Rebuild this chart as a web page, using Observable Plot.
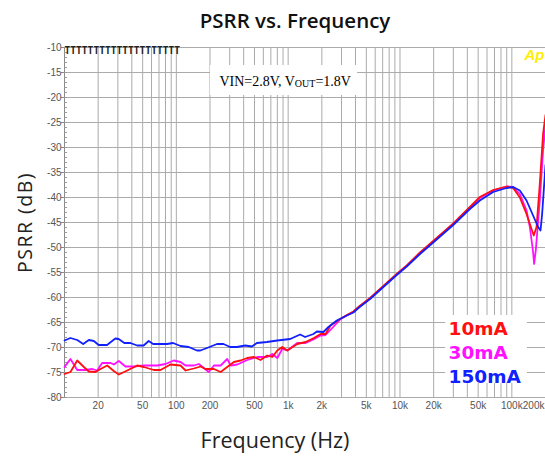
<!DOCTYPE html>
<html>
<head>
<meta charset="utf-8">
<script src="https://cdn.jsdelivr.net/npm/d3@7"></script>
<script src="https://cdn.jsdelivr.net/npm/@observablehq/plot@0.6"></script>
<style>
  html, body { margin: 0; padding: 0; background: #fff; }
  #chart svg { display: block; }
</style>
</head>
<body>
<div id="chart"></div>
<script>
// ---------- data ----------
const freq10mA = [10, 11.3, 13.0, 14.9, 16.5, 18.9, 21.0, 24.1, 27.6, 30.6, 36.4, 44.7, 51.2, 62.9, 72.2, 88.7, 109, 121, 143, 165, 182, 217, 249, 285, 327, 375, 431, 493, 566, 650, 721, 800, 885, 982, 1206, 1432, 1698, 1950, 2160, 2394, 2748, 3343, 3829, 4300, 5396, 7096, 9340, 11480, 15090, 21280, 29920, 42170, 51760, 68080, 89700, 102800, 117900, 135300, 150000, 157100, 166300, 177800, 190200, 200000];
const psrr10mA = [-75.3, -74.9, -72.6, -73.9, -74.8, -74.9, -74.3, -73.6, -74.7, -75.4, -74.6, -73.6, -73.9, -74.5, -74.5, -73.4, -73.6, -74.6, -74.2, -73.8, -74.3, -74.3, -74.9, -73.9, -72.9, -72.6, -72.1, -71.9, -72.5, -71.6, -71.9, -70.6, -69.9, -70.6, -69.3, -68.9, -68.1, -67.3, -67.3, -65.6, -64.7, -63.5, -62.8, -61.8, -60.1, -57.7, -55.3, -53.6, -51.0, -48.1, -45.2, -41.9, -39.9, -38.5, -37.8, -38.1, -40.0, -43.3, -46.3, -47.6, -45.9, -37.3, -27.3, -23.5];

const freq30mA = [10, 11.3, 13.0, 15.4, 17.7, 19.6, 21.7, 25.8, 27.6, 30.6, 35.1, 41.7, 51.2, 67.5, 80.0, 95, 109, 121, 143, 159, 195, 217, 249, 285, 306, 351, 431, 530, 650, 721, 800, 885, 982, 1206, 1432, 1643, 1950, 2160, 2479, 2943, 3343, 3829, 4300, 5396, 7096, 9340, 11480, 15090, 21280, 29920, 42170, 51760, 68080, 89700, 102800, 117900, 135300, 144900, 154900, 158200, 163700, 177800, 190200, 200000];
const psrr30mA = [-73.9, -72.3, -74.5, -74.5, -74.3, -74.6, -73.1, -73.1, -73.4, -72.7, -73.8, -73.8, -73.6, -73.6, -73.3, -72.6, -72.9, -73.6, -73.6, -73.3, -74.9, -73.6, -73.6, -72.3, -73.6, -73.4, -72.5, -71.9, -71.9, -71.3, -72.1, -70.3, -70.6, -69.1, -69.1, -68.5, -67.6, -67.5, -66.1, -64.3, -63.6, -62.9, -61.9, -60.2, -57.8, -55.4, -53.7, -51.1, -48.2, -45.3, -42.0, -40.1, -38.6, -37.8, -37.9, -39.3, -42.6, -45.9, -50.9, -53.3, -50.6, -40.6, -30.6, -25.5];

const freq150mA = [10, 11.3, 13.0, 14.7, 16.5, 18.3, 20.2, 24, 28.5, 30.5, 34.3, 38.8, 44.6, 51, 56.6, 62, 82.6, 93.5, 109, 129, 153, 164, 188, 231, 264, 303, 348, 413, 474, 525, 645, 800, 1042, 1280, 1418, 1682, 1804, 2066, 2290, 2722, 3343, 3829, 4300, 5396, 7096, 9340, 11480, 15090, 21280, 29920, 42170, 51760, 68080, 89700, 102800, 117900, 135300, 154900, 171800, 180400, 186600, 200000];
const psrr150mA = [-68.6, -68.1, -68.5, -69.3, -68.5, -68.7, -69.5, -69.5, -68.2, -68.3, -69.1, -69.1, -69.6, -69.6, -68.7, -69.3, -69.3, -69.1, -69.7, -69.9, -70.6, -70.6, -70.1, -69.3, -69.3, -69.9, -69.9, -69.6, -69.8, -69.1, -68.9, -68.6, -68.3, -67.4, -67.9, -67.3, -66.8, -66.9, -65.9, -64.6, -63.6, -63.0, -62.0, -60.3, -57.9, -55.5, -53.8, -51.3, -48.4, -45.5, -42.3, -40.6, -38.9, -38.1, -37.9, -38.6, -40.6, -43.6, -45.9, -46.6, -43.3, -33.5];

const seriesNames = ["10mA", "30mA", "150mA"];
const seriesColors = ["#ff1010", "#ff10ff", "#1020ff"];

const xTickValues = [20, 50, 100, 200, 500, 1000, 2000, 5000, 10000, 20000, 50000, 100000, 200000];
const xTickLabels = ["20", "50", "100", "200", "500", "1k", "2k", "5k", "10k", "20k", "50k", "100k", "200k"];
const yTickValues = [-10, -15, -20, -25, -30, -35, -40, -45, -50, -55, -60, -65, -70, -75, -80];
const yMinorTicks = d3.range(-80, -9, 1);
const xGridValues = [10, 100, 1000, 10000, 100000].flatMap(d => [1,2,3,4,5,6,7,8,9].map(m => d * m)).filter(v => v <= 200000);

const titleText = "PSRR vs. Frequency";
const xLabel = "Frequency (Hz)";
const yLabel = "PSRR (dB)";
const annotation = "VIN=2.8V, VOUT=1.8V";

// ---------- chart ----------
const gridColor = "#ababab";
const lines = [
  {f: freq30mA, p: psrr30mA, c: seriesColors[1]},
  {f: freq10mA, p: psrr10mA, c: seriesColors[0]},
  {f: freq150mA, p: psrr150mA, c: seriesColors[2]}
];
const nLab = xTickValues.length;

const chart = Plot.plot({
  width: 545,
  height: 457,
  marginTop: 47,
  marginBottom: 60,
  marginLeft: 64,
  marginRight: 0,
  style: {background: "white", fontFamily: "Liberation Sans, Arial, sans-serif", fontSize: "10px"},
  x: {type: "log", domain: [10, 200000], axis: null},
  y: {domain: [-80, -10], axis: null},
  marks: [
    Plot.ruleX(xGridValues, {stroke: gridColor}),
    Plot.ruleY(yTickValues, {stroke: gridColor}),
    Plot.ruleX([10], {stroke: "#8a8a8a"}),
    Plot.ruleY(yMinorTicks, {x1: 10, x2: 10.65, stroke: "#9a9a9a"}),
    // white boxes behind annotation and legend
    Plot.rect([annotation], {x1: 202, x2: 4180, y1: -13.6, y2: -19.6, fill: "white"}),
    Plot.rect(seriesNames.slice(0, 1), {x1: 25600, x2: 138000, y1: -63.6, y2: -77.2, fill: "white"}),
    // y axis ticks + labels
    Plot.tickY(yTickValues, {y: d => d, frameAnchor: "left", stroke: "#888", insetLeft: -3, insetRight: 481}),
    Plot.text(yTickValues, {y: d => d, text: d => String(d), frameAnchor: "left", textAnchor: "end", dx: -3, fill: "#555", fontSize: 10}),
    // x tick labels
    Plot.text(xTickValues.slice(0, nLab - 1), {x: d => d, text: (d, i) => xTickLabels[i], frameAnchor: "bottom", lineAnchor: "top", dy: 4, fill: "#555", fontSize: 10}),
    Plot.text(xTickValues.slice(nLab - 1), {x: d => d, text: d => xTickLabels[nLab - 1], frameAnchor: "bottom", lineAnchor: "top", textAnchor: "end", dy: 4, dx: -1, fill: "#555", fontSize: 10}),
    // curves
    ...lines.map(s => Plot.line(s.p, {x: s.f, y: s.p, stroke: s.c, strokeWidth: 1.8, curve: "linear"})),
    // top-left glitch row
    Plot.text(["TTTTTTTTTTTTTTTTTTTT"], {text: d => d, frameAnchor: "top-left", textAnchor: "start", lineAnchor: "top", dy: 0, fontFamily: "DejaVu Sans Mono", fontWeight: "bold", fontSize: 9.6, fill: "#222"}),
    // "Ap" logo
    Plot.text(["Ap"], {text: d => d, frameAnchor: "top-right", textAnchor: "end", lineAnchor: "top", dx: -1, dy: 2, fontFamily: "Liberation Sans", fontWeight: "bold", fontStyle: "italic", fontSize: 15, fill: "#ffee00"}),
    // annotation
    Plot.text([annotation], {text: d => d, x: 940, y: -16.8, fontFamily: "Liberation Serif", fontSize: 14, fill: "#000"}),
    // legend
    ...seriesNames.map((name, i) => Plot.text([name], {text: d => d, x: 27200, y: -66.4 - i * 4.8, textAnchor: "start", fontFamily: "DejaVu Sans", fontWeight: "bold", fontSize: 18.5, fill: seriesColors[i]})),
    // titles
    Plot.text([titleText], {text: d => d, frameAnchor: "top", textAnchor: "middle", dy: -34, dx: -10, fontFamily: "Open Sans", fontWeight: 600, fontSize: 20.5, fill: "#111"}),
    Plot.text([xLabel], {text: d => d, frameAnchor: "bottom", textAnchor: "middle", dy: 50, dx: -30, fontFamily: "Open Sans", fontSize: 21.5, fill: "#222"}),
    Plot.text([yLabel], {text: d => d, frameAnchor: "left", textAnchor: "middle", dx: -39, rotate: -90, fontFamily: "Open Sans", fontSize: 19.5, fill: "#222"})
  ]
});

for (const t of chart.querySelectorAll("text")) {
  if (t.textContent === annotation) {
    t.textContent = "";
    const ns = "http://www.w3.org/2000/svg";
    const parts = [["VIN=2.8V, V", null, 0], ["OUT", "10px", 1], ["=1.8V", null, -1]];
    for (const [s, fs, dy] of parts) {
      const sp = document.createElementNS(ns, "tspan");
      sp.textContent = s;
      if (fs) sp.setAttribute("font-size", fs);
      if (dy) sp.setAttribute("dy", dy);
      t.appendChild(sp);
    }
  } else if (t.textContent === yLabel) {
    t.setAttribute("letter-spacing", "1.5px");
  }
}
document.getElementById("chart").appendChild(chart);
</script>
</body>
</html>
